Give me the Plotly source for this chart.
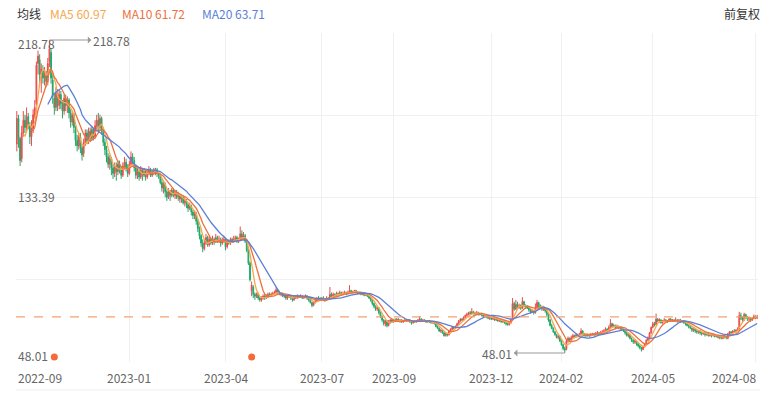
import plotly.graph_objects as go
import pandas as pd

# ---------------- data ----------------
opens = [
    162,176,165,154,168,175,171,177,172,166,
    170,178,184,206,208,200,202,198,200,196,
    207,212,197,187,182,190,183,189,184,180,
    187,183,186,179,174,178,170,164,161,166,
    160,157,163,168,164,169,165,170,166,172,
    175,171,176,170,163,159,155,151,154,149,
    146,150,147,151,148,145,150,152,149,146,
    151,155,153,149,145,147,144,148,145,147,
    144,146,148,145,147,146,148,146,145,141,
    138,140,136,133,136,134,137,134,136,133,
    134,132,133,130,131,129,127,128,125,123,
    124,120,116,112,108,105,108,111,107,110,
    108,110,109,111,109,110,108,109,110,106,
    109,108,110,109,110,111,109,110,113,111,
    112,109,104,97,82,84,80,79,80,78,
    77,78,79,78,79,80,79.5,80,80.5,81,
    82.5,81,80,80.5,79,79.5,78,78.5,79,78,
    77,78.5,78,79,78.5,79,78,78.5,79,78,
    77,75.5,74,75.5,76.5,78,77.5,77,78,77.5,
    77,78,77.5,80,79,80,79.5,80.5,80,81,
    80,80.5,81,80.5,81,82,81,81.5,82,81,
    80.5,81,80,80.5,79.5,80,79,78,77,75,
    73.5,72,72.5,70,68,66,64,65.5,63,65,
    66,65,66,65.5,66.5,65.5,66,65,65.5,66,
    65.5,66,65,64.5,65.5,65,65.5,66,66.5,65.5,
    66,65.5,65,65.5,65,64.5,65,64,62.5,61.5,
    60,60.5,59,57.5,58.5,58,60,61,62,61.5,
    62.5,64,65.5,66.5,66,67.5,68.5,69,70,69.5,
    70.5,70,69.5,70,69,69.5,69,68,68.5,67.5,
    67,67.5,66.5,67,66,66.5,65.5,66,65,65.5,
    64.5,64,63.5,64.5,66.5,75,72,74.5,73,74,
    72.5,76,74,73,72.5,71.5,70.5,71,70,73,
    75.5,74,73,72,72.5,71,69,66,63,61.5,
    59.5,58,56.5,57,54.5,52.5,50.5,50,54.5,56,
    55,56.5,57.5,57,58,57.5,58,60,58.5,58,
    57.5,58,57.5,58,58.5,58,58.5,59,58.5,59,
    59.5,60,61,60.5,62,64,62.5,63,62,62.5,
    61.5,62,61,60,59,57.5,58,56,55,54,
    54.5,53,52,51,50,51.5,53,55,56.5,59,
    62,64,63.5,66.5,65.5,66,64.5,65.5,66,65,
    65.5,66.5,65.5,66,65.5,66,65.5,66,65,65.5,
    64.5,64,63,62.5,61.5,60.5,61,60,59.5,60,
    59,58.5,59,58,58.5,57.5,58,57.5,58,57,
    57.5,56.5,57,56,57.5,57,56,58.5,59.5,59,
    60,59.5,60.5,61,68.5,67,66,69,67.5,66.5,
    67,66,67,68,67,
]
highs = [
    180,178,166,172,180,178,182,179,174,175,
    181,186,207,213,211,206,205,204,202,209,
    218.78,214,200,190,193,192,192,191,186,189,
    189,188,187,181,180,179,172,167,168,168,
    162,165,170,170,171,171,172,171,175,178,
    179,178,177,171,165,161,157,156,155,151,
    152,152,153,153,150,152,155,154,151,153,
    158,157,155,150,149,149,150,149,149,148,
    148,150,149,148,149,149,149,147,146,143,
    142,141,137,138,137,138,138,137,137,136,
    135,134,134,133,132,130,130,129,126,126,
    125,121,117,113,110,110,113,112,112,111,
    112,111,113,112,112,111,111,112,111,110,
    110,111,111,112,112,112,111,117,115,114,
    113,110,105,98,87,85,81,81,81,79,
    79,80,80,80,81,81,81,81.5,82,84,
    83,82,81,81,80,80,79.5,80,79.5,78.5,
    79,79.5,80,79.5,80,79.5,79,80,79.5,78.5,
    77.5,76,76,77,78.5,79,78.5,78.5,79,78,
    79,78.5,84,81,81,80.5,81.5,81,82,81.5,
    81.5,82,81.5,82,85,82.5,82,82.5,82.5,81.5,
    81.5,81.5,81,81,80.5,80.5,79.5,78.5,77.5,75.5,
    74,73.5,73,70.5,68.5,66.5,66,66,66,66.5,
    66.5,66.5,67,67,67,66.5,66.5,66,67,66.5,
    66.5,66.5,65.5,66,66,66,66.5,68,67,66.5,
    66.5,66,66,66,65.5,65.5,65.5,64.5,63,62,
    61,61,59.5,59,59,60.5,61.5,62.5,62.5,63,
    64.5,66,67,67,68,69,70,70.5,71,72.5,
    71,70.5,71,70.5,70,70,69.5,69,69,68,
    68,68,67.5,67.5,67,67,66.5,66.5,66,66,
    65,64.5,65,67,78,76,77,76,75,74.5,
    78.5,76.5,74.5,74,73,72,72,71.5,75,77,
    76,74.5,73.5,73.5,73,71.5,69.5,66.5,64,62,
    60,58.5,58,57.5,55,53,51.5,55.5,57,56.5,
    57.5,58.5,58,59,58.5,59,61.5,60.5,59,58.5,
    58.5,58.5,59,59,59,59.5,60,59.5,60,60.5,
    61,62,61.5,63,66.5,64.5,64,63.5,63.5,63,
    62.5,62.5,61.5,60.5,59.5,59,58.5,56.5,55.5,55.5,
    55,53.5,52.5,51.5,52,53.5,55.5,57,59.5,62.5,
    65,65,69.5,67,67,66.5,66,67,66.5,66,
    67,67,66.5,66.5,67.5,66.5,66.5,66.5,66,66,
    65,64.5,63.5,63,62,61.5,61.5,60.5,60.5,60.5,
    59.5,59.5,59.5,59,59,58.5,58.5,58.5,58.5,58,
    58,57.5,57.5,58,58,57.5,59,60,60,60.5,
    61,61,62,70.5,70,68,70,69.5,68,68,
    67.5,67.5,69,68.5,68.8,
]
lows = [
    158,160,150,152,166,168,169,170,162,161,
    168,176,183,200,195,190,195,194,193,194,
    204,195,184,178,180,180,181,181,176,178,
    180,179,176,171,172,168,161,158,159,157,
    153,155,161,162,162,163,164,164,165,170,
    169,169,167,161,156,152,149,148,145,143,
    144,142,145,146,143,144,148,147,144,145,
    150,151,147,143,143,142,143,142,144,142,
    143,145,144,144,145,145,144,143,140,136,
    135,133,131,132,131,133,133,132,132,131,
    130,130,129,128,127,125,126,123,121,121,
    118,114,110,106,103,104,107,106,106,107,
    107,107,108,108,108,106,107,108,104,105,
    107,107,108,108,109,108,108,109,110,110,
    108,103,96,87,79,78,77,78,77,76,
    76,77,77,77.5,78,79,79,79.5,80,80.5,
    80,79.5,79,78.5,78,77,77,78,77,76,
    76.5,77.5,77.5,78,78,77.5,77.5,78,77,76,
    75,73,73.5,75,76,77,76.5,76.5,77,76,
    76.5,77,77,78.5,78.5,78.5,79,79,79.5,79.5,
    79.5,80,79.5,80,80.5,80.5,80.5,81,80.5,80,
    80,79.5,79.5,79,79,78.5,77.5,76,74,72.5,
    71,71,69,67,65,63,62.5,62,62.5,64,
    64.5,64.5,65,65,65,64.5,64.5,64.5,65,65,
    65,64.5,63.5,64,64.5,64.5,65,65.5,65,65,
    65,64.5,64.5,64.5,64,64,63.5,62,61,59.5,
    59,58.5,57,57,57,57.5,59.5,60.5,61,61,
    62,63.5,65,65.5,65.5,67,68,68.5,69,69,
    69,68.5,69,68.5,68.5,68,67.5,67.5,67,66.5,
    66,66,66,65.5,65.5,65,65,64.5,64.5,64,
    63,63,63,64,66,71,71.5,72.5,72,71.5,
    72,73,72,72,70.5,69.5,70,69,69.5,72.5,
    73,72,71,71,70,68,65,62.5,61,59,
    57.5,56,55.5,54,52,49.5,48.01,49.5,53.5,54,
    54.5,56,56,56.5,56.5,57,57.5,58,57,56.5,
    57,56.5,57,57.5,57,57.5,58,58,58,58.5,
    59,59.5,59.5,60,61.5,62,62,61,61.5,61,
    60.5,60.5,59.5,58,57,56.5,55.5,54,53,53,
    52,51,50,48.8,49.5,51,52.5,54.5,56,58.5,
    61.5,62.5,63,65,64.5,64,64,65,64.5,64.5,
    65,65,65,65,65,64.5,65,64.5,64.5,64,
    63,62.5,61.5,61,59.5,59.5,59,58.5,58.5,58,
    57.5,58,57,57.5,57,57,56.5,57,56.5,56.5,
    56,55.5,55.5,55.5,56,55.5,55.5,58,58.5,58.5,
    59,59,60,61,66,65,65.5,66.5,65.5,65.5,
    65,65.5,66.5,66.5,66.8,
]
closes = [
    176,165,153,168,175,171,177,172,166,170,
    178,182,205,210,200,203,198,200,196,206,
    214,198,188,182,190,183,189,184,180,187,
    183,186,179,174,178,171,164,161,166,160,
    156,163,168,164,169,165,170,166,172,175,
    171,176,170,163,159,155,151,154,149,146,
    150,147,151,148,145,150,152,149,146,151,
    155,153,149,145,147,144,148,145,147,144,
    146,148,145,147,146,148,146,145,141,138,
    140,136,133,136,134,137,134,136,133,134,
    132,133,130,131,129,127,128,125,123,124,
    120,116,112,108,105,108,111,107,110,108,
    110,109,111,109,110,108,109,110,106,109,
    108,110,109,110,111,109,110,113,111,112,
    109,104,97,88,85,80,79,80,78,77,
    78,79,78,79,80,79.5,80,80.5,81,82.5,
    81,80,80.5,79,79.5,78,78.5,79,78,77,
    78.5,78,79,78.5,79,78,78.5,79,78,77,
    75.5,74,75.5,76.5,78,77.5,77,78,77.5,77,
    78,77.5,80,79,80,79.5,80.5,80,81,80,
    80.5,81,80.5,81,82,81,81.5,82,81,80.5,
    81,80,80.5,79.5,80,79,78,77,75,73.5,
    72,72.5,70,68,66,64,65.5,63,65,66,
    65,66,65.5,66.5,65.5,66,65,65.5,66,65.5,
    66,65,64.5,65.5,65,65.5,66,66.5,65.5,66,
    65.5,65,65.5,65,64.5,65,64,62.5,61.5,60,
    60.5,59,57.5,58.5,58,60,61,62,61.5,62.5,
    64,65.5,66.5,66,67.5,68.5,69,70,69.5,70.5,
    70,69.5,70,69,69.5,69,68,68.5,67.5,67,
    67.5,66.5,67,66,66.5,65.5,66,65,65.5,64.5,
    64,63.5,64.5,66,75,72,74.5,73,74,72.5,
    76,74,73,72.5,71.5,70.5,71,70,73,75.5,
    74,73,72,72.5,71,69,66,63,61.5,59.5,
    58,56.5,57,54.5,52.5,50.5,49.5,54.5,56,55,
    56.5,57.5,57,58,57.5,58,60,58.5,58,57.5,
    58,57.5,58,58.5,58,58.5,59,58.5,59,59.5,
    60,61,60.5,62,64,62.5,63,62,62.5,61.5,
    62,61,60,59,57.5,58,56,55,54,54.5,
    53,52,51,50,51.5,53,55,56.5,59,62,
    64,63.5,66.5,65.5,66,64.5,65.5,66,65,65.5,
    66.5,65.5,66,65.5,66,65.5,66,65,65.5,64.5,
    64,63,62.5,61.5,60.5,61,60,59.5,60,59,
    58.5,59,58,58.5,57.5,58,57.5,58,57,57.5,
    56.5,57,56,57.5,57,56.5,58.5,59.5,59,60,
    59.5,60.5,61,68.5,67,66,69,67.5,66.5,67,
    66,67,68,67.2,67.7,
]

# month tick labels and the trading-day index they sit on
tick_idx = [0, 69, 128, 187, 231, 291, 334, 390, 453]
tick_text = ["2022-09", "2023-01", "2023-04", "2023-07", "2023-09",
             "2023-12", "2024-02", "2024-05", "2024-08"]
# price-axis labels (max / mid / min)
y_label_vals = [218.78, 133.395, 48.01]
y_label_text = ["218.78", "133.39", "48.01"]
# event markers (trading-day index)
event_idx = [23, 144]
# legend header texts
legend_texts = ["均线", "MA5 60.97", "MA10 61.72", "MA20 63.71"]
ma_windows = [5, 10, 20]

# ---------------- styling ----------------
RED = "#EE4B4B"
GREEN = "#1FA86A"
MA_COLORS = ["#F5A84E", "#EE7040", "#5B7FD8"]
GRID = "#F0F0F0"
TXT = "#666666"
FONT = "Noto Sans CJK SC, Noto Sans, sans-serif"

N = len(closes)
x = list(range(N))
cs = pd.Series(closes)

W, H = 776, 395
ML, MR, MT, MB = 16, 18, 33, 33
Y_LO, Y_HI = 43.1, 222.6

fig = go.Figure()
fig.add_trace(go.Candlestick(
    x=x, open=opens, high=highs, low=lows, close=closes,
    increasing=dict(line=dict(color=RED, width=1), fillcolor=RED),
    decreasing=dict(line=dict(color=GREEN, width=1), fillcolor=GREEN),
    whiskerwidth=0, hoverinfo="skip", showlegend=False,
))
for w, col in zip(ma_windows, MA_COLORS):
    ma = cs.rolling(w).mean()
    fig.add_trace(go.Scatter(x=x, y=ma, mode="lines",
                             line=dict(color=col, width=1.3),
                             hoverinfo="skip", showlegend=False))

# event dots near the bottom
ev_level = Y_LO + 0.015 * (Y_HI - Y_LO)
fig.add_trace(go.Scatter(x=event_idx, y=[ev_level] * len(event_idx), mode="markers",
                         marker=dict(color="#F26B38", size=7),
                         hoverinfo="skip", showlegend=False))

# last-price dashed line
fig.add_shape(type="line", xref="paper", x0=0, x1=1, yref="y",
              y0=closes[-1], y1=closes[-1],
              line=dict(color="#F3A26E", width=1.2, dash="dash"))
# bottom border line under the date labels
fig.add_shape(type="line", xref="paper", x0=0, x1=1.003, yref="paper",
              y0=-0.085, y1=-0.085, line=dict(color="#EEEEEE", width=1))

ann = []
# y labels
for v, t in zip(y_label_vals, y_label_text):
    shift = -3 if v == max(y_label_vals) else (-2 if v == min(y_label_vals) else 0)
    ann.append(dict(xref="paper", x=0, yref="y", y=v, text=t, showarrow=False,
                    xanchor="left", yanchor="middle", yshift=shift,
                    font=dict(size=12, color=TXT, family=FONT)))
# x labels
for i, (ix, t) in enumerate(zip(tick_idx, tick_text)):
    anchor = "left" if i == 0 else ("right" if i == len(tick_idx) - 1 else "center")
    xv = ix - 0.5 if i == 0 else (N - 0.5 if i == len(tick_idx) - 1 else ix)
    ann.append(dict(xref="x", x=xv, yref="paper", y=-0.0486, text=t, showarrow=False,
                    xanchor=anchor, yanchor="middle",
                    font=dict(size=12, color=TXT, family=FONT)))
# max / min markers
imax = max(range(N), key=lambda i: highs[i])
imin = min(range(N), key=lambda i: lows[i])
ann.append(dict(x=imax, y=highs[imax], xref="x", yref="y", text=f"{highs[imax]:.2f}",
                showarrow=True, ax=42, ay=0, xanchor="left", arrowhead=6, arrowside="start",
                arrowsize=0.6, arrowwidth=1.2, arrowcolor="#9A9A9A", standoff=0, startstandoff=0,
                font=dict(size=12, color=TXT, family=FONT)))
ann.append(dict(x=imin, y=lows[imin], xref="x", yref="y", text=f"{lows[imin]:.2f}",
                showarrow=True, ax=-51, ay=0, xanchor="right", arrowhead=6, arrowside="start",
                arrowsize=0.6, arrowwidth=1.2, arrowcolor="#9A9A9A", standoff=0, startstandoff=0,
                font=dict(size=12, color=TXT, family=FONT)))
# legend header
leg_x = [15, 48, 120, 200]
leg_col = ["#333333"] + MA_COLORS
for px, t, c in zip(leg_x, legend_texts, leg_col):
    ann.append(dict(xref="paper", x=(px - ML) / (W - ML - MR), yref="paper", y=1.0578,
                    text=t, showarrow=False, xanchor="left", yanchor="middle",
                    font=dict(size=12, color=c, family=FONT)))
ann.append(dict(xref="paper", x=(762 - ML) / (W - ML - MR), yref="paper", y=1.0578,
                text="前复权", showarrow=False, xanchor="right", yanchor="middle",
                font=dict(size=12, color="#333333", family=FONT)))

grid_vals = [Y_LO + k * (Y_HI - Y_LO) / 4 for k in range(5)]

fig.update_layout(
    width=W, height=H, margin=dict(l=ML, r=MR, t=MT, b=MB),
    paper_bgcolor="white", plot_bgcolor="white",
    showlegend=False, annotations=ann,
    xaxis=dict(range=[-0.5, N - 0.5], rangeslider=dict(visible=False),
               tickvals=tick_idx[1:], showticklabels=False, ticks="",
               showgrid=True, gridcolor=GRID, gridwidth=1, zeroline=False,
               showline=False, fixedrange=True),
    yaxis=dict(range=[Y_LO, Y_HI], tickvals=grid_vals, showticklabels=False, ticks="",
               showgrid=True, gridcolor=GRID, gridwidth=1, zeroline=False,
               showline=False, fixedrange=True),
)

fig.write_html("out.html", config={"displayModeBar": False},
               post_script="document.body.style.margin='0px';document.body.style.padding='0px';")
